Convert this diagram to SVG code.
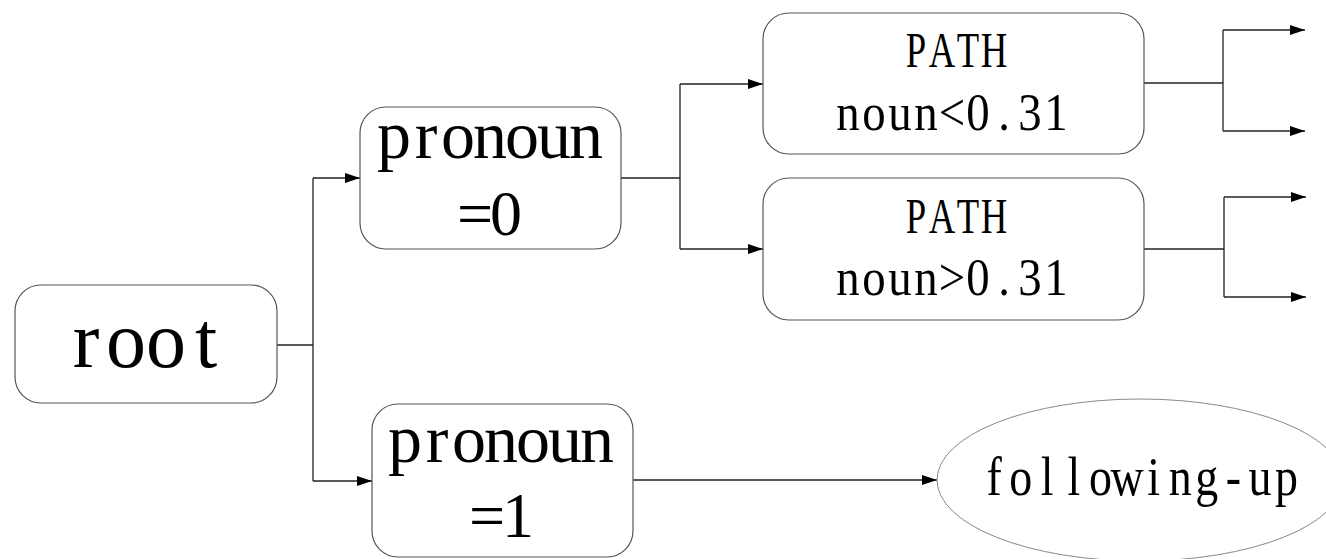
<svg xmlns="http://www.w3.org/2000/svg" width="1326" height="559" viewBox="0 0 1326 559">
<style>
.box{fill:#fff;stroke:#555;stroke-width:1.2}
.ell{fill:#fff;stroke:#888;stroke-width:1}
.t{font-family:"Liberation Serif","Times New Roman",serif;fill:#000;text-anchor:middle}
.c{fill:none;stroke:#222;stroke-width:1.3}
</style>
<defs>
<marker id="ah" markerUnits="userSpaceOnUse" markerWidth="16" markerHeight="11" refX="15" refY="5" orient="auto">
<path d="M0,0 L15,5 L0,10 z" fill="#000"/>
</marker>
</defs>
<g id="connectors">
<path class="c" d="M277,345 H313"/>
<path class="c" d="M313,178 V481"/>
<path class="c" d="M313,178 H360" marker-end="url(#ah)"/>
<path class="c" d="M313,481 H372" marker-end="url(#ah)"/>
<path class="c" d="M621,178 H680"/>
<path class="c" d="M680,84 V249"/>
<path class="c" d="M680,84 H763" marker-end="url(#ah)"/>
<path class="c" d="M680,249 H763" marker-end="url(#ah)"/>
<path class="c" d="M1144,83 H1223"/>
<path class="c" d="M1223,30 V131"/>
<path class="c" d="M1223,30 H1305" marker-end="url(#ah)"/>
<path class="c" d="M1223,131 H1305" marker-end="url(#ah)"/>
<path class="c" d="M1144,249 H1224"/>
<path class="c" d="M1224,197 V297"/>
<path class="c" d="M1224,197 H1306" marker-end="url(#ah)"/>
<path class="c" d="M1224,297 H1306" marker-end="url(#ah)"/>
<path class="c" d="M633,480 H937" marker-end="url(#ah)"/>
</g>
<g id="root">
<rect class="box" x="15" y="285" width="262" height="118" rx="26"/>
<text class="t" x="86 126 166 206" y="367" font-size="80">root</text>
</g>
<g id="pronoun0">
<rect class="box" x="360" y="107" width="261" height="142" rx="26"/>
<text class="t" x="394 426 458 490 522 554 586" y="158" font-size="68">pronoun</text>
<text class="t" x="475 506" y="235" font-size="64">=0</text>
</g>
<g id="pronoun1">
<rect class="box" x="372" y="404" width="261" height="153" rx="26"/>
<text class="t" x="405 437 469 501 533 565 597" y="462" font-size="68">pronoun</text>
<text class="t" x="487 518" y="537" font-size="64">=1</text>
</g>
<g id="path-lt">
<rect class="box" x="763" y="13" width="381" height="141" rx="26"/>
<text class="t" transform="translate(955,67) scale(0.72,1)" x="-54.17 -18.06 18.06 54.17" y="0" font-size="51">PATH</text>
<text class="t" transform="translate(952,130) scale(0.9,1)" x="-115.56 -86.67 -57.78 -28.89 0 28.89 57.78 86.67 115.56" y="0" font-size="52">noun&lt;0.31</text>
</g>
<g id="path-gt">
<rect class="box" x="763" y="178" width="381" height="142" rx="26"/>
<text class="t" transform="translate(955,233) scale(0.72,1)" x="-54.17 -18.06 18.06 54.17" y="0" font-size="51">PATH</text>
<text class="t" transform="translate(952,295) scale(0.9,1)" x="-115.56 -86.67 -57.78 -28.89 0 28.89 57.78 86.67 115.56" y="0" font-size="52">noun&gt;0.31</text>
</g>
<g id="following-up">
<ellipse class="ell" cx="1140" cy="480" rx="203" ry="81"/>
<text class="t" transform="translate(1140.3,495) scale(0.85,1)" x="-172.1 -140.8 -109.5 -78.2 -46.9 -15.6 15.6 46.9 78.2 109.5 140.8 172.1" y="0" font-size="54">following-up</text>
</g>
</svg>
